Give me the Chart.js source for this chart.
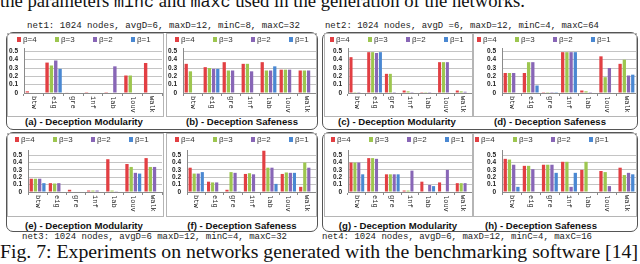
<!DOCTYPE html>
<html>
<head>
<meta charset="utf-8">
<script src="https://cdn.jsdelivr.net/npm/chart.js@4.4.1/dist/chart.umd.min.js"></script>
<style>
  body { margin: 0; background: #fff; }
  #page { position: relative; width: 640px; height: 264px; overflow: hidden; }
  .group { position: absolute; border: 1px solid #555; border-radius: 7px; box-sizing: border-box; }
  canvas { position: absolute; outline: 1px solid #b5b5b5; outline-offset: -1px; }
  .caption { position: absolute; width: 170px; text-align: center; font: bold 9.6px "Liberation Sans", Arial, sans-serif; line-height: 12px; white-space: nowrap; color: #111; }
  .netinfo { position: absolute; font-family: "Liberation Mono", "DejaVu Sans Mono", monospace; font-size: 9px; line-height: 10px; white-space: nowrap; color: #222; transform-origin: 0 0; }
  .serif { position: absolute; left: 0; font-family: "Liberation Serif", "DejaVu Serif", serif; font-size: 19px; line-height: 20px; white-space: nowrap; color: #111; transform-origin: 0 0; }
  .serif code { font-family: "Liberation Mono", monospace; font-size: 17px; }
</style>
</head>
<body>
<div id="page">
  <div class="serif fit" data-w="525" style="top:-9px">the parameters <code>minc</code> and <code>maxc</code> used in the generation of the networks.</div>
  <div class="netinfo fit" data-w="273" style="left:27px;top:21px">net1: 1024 nodes, avgD=6, maxD=12, minC=8, maxC=32</div>
  <div class="netinfo fit" data-w="274" style="left:325px;top:21px">net2: 1024 nodes, avgD =6, maxD=12, minC=4, maxC=64</div>

  <div class="group" style="left:6px;top:32px;width:312px;height:98px"></div>
  <div class="group" style="left:322px;top:32px;width:316px;height:98px"></div>
  <div class="group" style="left:6px;top:132px;width:312px;height:100px"></div>
  <div class="group" style="left:322px;top:132px;width:316px;height:100px"></div>

  <div class="caption" style="left:-1px;top:116px">(a) - Deception Modularity</div>
  <div class="caption" style="left:157px;top:116px">(b) - Deception Safeness</div>
  <div class="caption" style="left:312px;top:116px">(c) - Deception Modularity</div>
  <div class="caption" style="left:465px;top:116px">(d) - Deception Safeness</div>
  <div class="caption" style="left:-1px;top:220px">(e) - Deception Modularity</div>
  <div class="caption" style="left:157px;top:220px">(f) - Deception Safeness</div>
  <div class="caption" style="left:313px;top:220px">(g) - Deception Modularity</div>
  <div class="caption" style="left:456px;top:220px">(h) - Deception Safeness</div>

  <div class="netinfo fit" data-w="265" style="left:22px;top:232px">net3: 1024 nodes, avgD=6 maxD=12, minC=4, maxC=32</div>
  <div class="netinfo fit" data-w="270" style="left:322px;top:232px">net4: 1024 nodes, avgD=6, maxD=12, minC=4, maxC=16</div>
  <div class="serif fit" data-w="638" style="top:242px">Fig. 7: Experiments on networks generated with the benchmarking software [14]</div>
</div>
<script>
const categories = ['btw', 'eig', 'gre', 'inf', 'lab', 'louv', 'walk'];
const betaLabels = ['β=4', 'β=3', 'β=2', 'β=1'];
const betaColors = ['#E23F43', '#9DC64F', '#8866B6', '#4A88D2'];
const yTicks = [0, 0.1, 0.2, 0.3, 0.4, 0.5];

// rows: β=4, β=3, β=2, β=1
const net1Modularity = [
    [0.02, 0.365, 0.005, 0.01, 0.01, 0.21, 0.36],
    [0, 0.33, 0, 0, 0, 0.21, 0],
    [0, 0.39, 0, 0, 0.32, 0, 0],
    [0, 0.29, 0, 0, 0, 0, 0]
];
const net1Safeness = [
    [0.35, 0.31, 0.37, 0.35, 0.37, 0.28, 0.27],
    [0.26, 0.30, 0.27, 0.35, 0.27, 0.28, 0.27],
    [0, 0.29, 0.27, 0.26, 0.27, 0.28, 0.27],
    [0, 0.29, 0, 0, 0.32, 0, 0]
];
const net2Modularity = [
    [0.43, 0.49, 0.23, 0.03, 0.01, 0.37, 0.03],
    [0.01, 0.49, 0.23, 0.02, 0.01, 0.37, 0.02],
    [0.01, 0.48, 0.01, 0.01, 0.01, 0.37, 0.015],
    [0, 0.49, 0, 0, 0, 0, 0]
];
const net2Safeness = [
    [0.24, 0.24, 0.01, 0.49, 0.03, 0.44, 0.35],
    [0.24, 0.37, 0.01, 0.49, 0.02, 0.19, 0.40],
    [0.24, 0.37, 0.01, 0.49, 0.01, 0.30, 0.21],
    [0, 0.09, 0.01, 0.49, 0, 0, 0.22]
];
const net3Modularity = [
    [0.18, 0.12, 0.03, 0.02, 0.445, 0.38, 0.46],
    [0.18, 0.115, 0, 0.02, 0.02, 0.34, 0.34],
    [0.18, 0.12, 0, 0.02, 0.01, 0.26, 0.34],
    [0.12, 0, 0, 0, 0, 0.25, 0]
];
const net3Safeness = [
    [0.33, 0.14, 0.03, 0.245, 0.56, 0.245, 0.07],
    [0.25, 0.13, 0.27, 0.255, 0.33, 0.265, 0.40],
    [0.25, 0.13, 0.26, 0.24, 0.33, 0.26, 0.33],
    [0.27, 0, 0.01, 0, 0.11, 0.26, 0]
];
const net4Modularity = [
    [0.40, 0.46, 0.24, 0.02, 0.14, 0.13, 0.12],
    [0.40, 0.46, 0.24, 0.02, 0, 0, 0.12],
    [0.40, 0.45, 0.24, 0.29, 0.095, 0.30, 0.12],
    [0.24, 0, 0.24, 0, 0.08, 0, 0]
];
const net4Safeness = [
    [0.45, 0.355, 0.37, 0.41, 0.30, 0.285, 0.33],
    [0.44, 0.355, 0.37, 0.41, 0.41, 0.27, 0.23],
    [0.37, 0.31, 0.37, 0.07, 0, 0.08, 0.26],
    [0.07, 0, 0.26, 0.26, 0, 0, 0.24]
];

// where each small chart sits on the page
const panels = [
    { data: net1Modularity, left: 7,   top: 33,  width: 157, yw: 17, padTop: 15, xh: 24, max: 0.54, padRight: 2, legendX: 10 },
    { data: net1Safeness,   left: 166, top: 33,  width: 151, yw: 17, padTop: 15, xh: 24, max: 0.54, padRight: 1, legendX: 9 },
    { data: net2Modularity, left: 324, top: 33,  width: 149, yw: 24, padTop: 15, xh: 24, max: 0.54, padRight: 1, legendX: 6 },
    { data: net2Safeness,   left: 473, top: 33,  width: 164, yw: 29, padTop: 15, xh: 24, max: 0.54, padRight: 1, legendX: 4 },
    { data: net3Modularity, left: 7,   top: 133, width: 157, yw: 21, padTop: 17, xh: 25, max: 0.57, padRight: 2, legendX: 8 },
    { data: net3Safeness,   left: 166, top: 133, width: 151, yw: 21, padTop: 17, xh: 25, max: 0.57, padRight: 1, legendX: 9 },
    { data: net4Modularity, left: 324, top: 133, width: 149, yw: 24, padTop: 17, xh: 25, max: 0.57, padRight: 1, legendX: 7 },
    { data: net4Safeness,   left: 473, top: 133, width: 164, yw: 29, padTop: 17, xh: 25, max: 0.57, padRight: 1, legendX: 2 }
];

// small legend squares like the excel ones
const betaLegend = {
    id: 'betaLegend',
    afterDraw(chart, args, opts) {
        const ctx = chart.ctx;
        ctx.save();
        ctx.font = '8px "Liberation Sans"';
        ctx.textBaseline = 'middle';
        chart.data.datasets.forEach((ds, i) => {
            const x = opts.x + i * 38;
            ctx.fillStyle = ds.backgroundColor;
            ctx.fillRect(x, opts.y - 2, 4, 5);
            ctx.fillStyle = '#333';
            ctx.fillText(ds.label, x + 6, opts.y + 0.5);
        });
        ctx.restore();
    }
};

// x labels rotated clockwise, reading downwards
const downLabels = {
    id: 'downLabels',
    afterDraw(chart) {
        const ctx = chart.ctx;
        const xs = chart.scales.x;
        ctx.save();
        ctx.font = '7px "Liberation Mono"';
        ctx.fillStyle = '#222';
        ctx.textAlign = 'left';
        ctx.textBaseline = 'middle';
        chart.data.labels.forEach((lab, i) => {
            ctx.save();
            ctx.translate(xs.getPixelForTick(i), xs.top + 3);
            ctx.rotate(Math.PI / 2);
            ctx.fillText(lab, 0, 0);
            ctx.restore();
        });
        ctx.restore();
    }
};

Chart.defaults.font.family = '"Liberation Sans", Arial, sans-serif';

const page = document.getElementById('page');
panels.forEach(p => {
    const cv = document.createElement('canvas');
    cv.width = p.width;
    cv.height = 84;
    cv.style.left = p.left + 'px';
    cv.style.top = p.top + 'px';
    cv.style.width = p.width + 'px';
    cv.style.height = '84px';
    page.appendChild(cv);

    new Chart(cv, {
        type: 'bar',
        data: {
            labels: categories,
            datasets: p.data.map((vals, i) => ({
                label: betaLabels[i],
                data: vals,
                backgroundColor: betaColors[i],
                barPercentage: 0.78,
                categoryPercentage: 0.88
            }))
        },
        options: {
            responsive: false,
            animation: false,
            devicePixelRatio: 1,
            layout: { padding: { top: p.padTop, right: p.padRight, left: 0, bottom: 0 } },
            plugins: {
                legend: { display: false },
                tooltip: { enabled: false },
                betaLegend: { x: p.legendX, y: 6 }
            },
            scales: {
                x: {
                    grid: { display: true, drawOnChartArea: false, offset: true, tickLength: 3, color: '#8a8a8a' },
                    border: { color: '#8a8a8a' },
                    ticks: { display: false },
                    afterFit: s => { s.height = p.xh; }
                },
                y: {
                    min: 0,
                    max: p.max,
                    afterBuildTicks: s => { s.ticks = yTicks.map(v => ({ value: v })); },
                    ticks: {
                        autoSkip: false,
                        font: { size: 6.5, weight: 'bold' },
                        color: '#222',
                        padding: 6,
                        callback: v => v === 0 ? '0' : v.toFixed(1)
                    },
                    grid: { color: '#c4c4c4', drawTicks: false },
                    border: { color: '#8a8a8a' },
                    afterFit: s => { s.width = p.yw; }
                }
            }
        },
        plugins: [betaLegend, downLabels]
    });
});

// stretch the text lines to the widths seen in the figure
document.querySelectorAll('.fit').forEach(el => {
    const w = el.getBoundingClientRect().width;
    el.style.transform = 'scaleX(' + (Number(el.dataset.w) / w) + ')';
});
</script>
</body>
</html>
